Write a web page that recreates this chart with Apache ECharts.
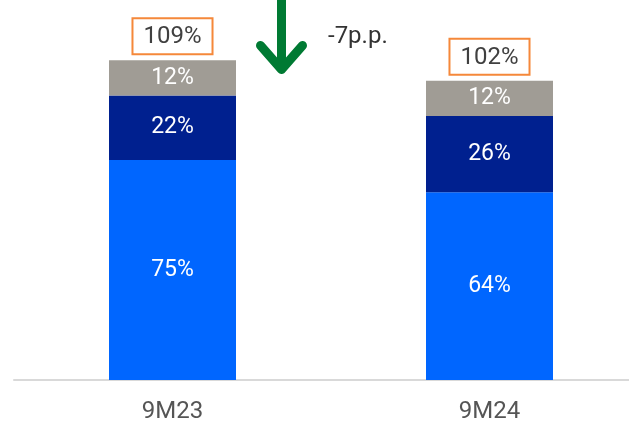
<!DOCTYPE html>
<html>
<head>
<meta charset="utf-8">
<script src="https://cdn.jsdelivr.net/npm/echarts@6/dist/echarts.min.js"></script>
<style>
  html, body { margin: 0; padding: 0; background: #fff; }
  #chart { width: 629px; height: 422px; }
</style>
</head>
<body>
<div id="chart"></div>
<script>
const categories = ['9M23', '9M24'];
const baseShare = [75, 64];
const midShare = [22, 26];
const topShare = [12, 12];
const totals = [109, 102];
const deltaText = '-7p.p.';

const FONT = 'Roboto';

const chart = echarts.init(document.getElementById('chart'));

const segLabel = {
  show: true,
  position: 'inside',
  formatter: '{c}%',
  color: '#fff',
  fontSize: 23,
  fontFamily: FONT,
  padding: [4, 0, 0, 0]
};

const option = {
  animation: false,
  grid: { left: 14, width: 634, top: 28, bottom: 42, outerBoundsMode: 'none' },
  xAxis: {
    type: 'category',
    data: categories,
    axisLine: { lineStyle: { color: '#d9d9d9', width: 2 } },
    axisTick: { show: false },
    axisLabel: { color: '#555', fontSize: 24, fontFamily: FONT, margin: 20 }
  },
  yAxis: {
    type: 'value',
    min: 0,
    max: 120,
    show: false,
    splitLine: { show: false }
  },
  series: [
    {
      name: 'base',
      type: 'bar',
      stack: 'a',
      data: baseShare,
      barWidth: 127,
      itemStyle: { color: '#0066FF' },
      label: segLabel
    },
    {
      name: 'mid',
      type: 'bar',
      stack: 'a',
      data: midShare,
      itemStyle: { color: '#00208F' },
      label: segLabel
    },
    {
      name: 'top',
      type: 'bar',
      stack: 'a',
      data: topShare,
      itemStyle: { color: '#A09C95' },
      label: segLabel
    },
    {
      name: 'total',
      type: 'scatter',
      data: totals,
      symbolSize: 0,
      itemStyle: { color: '#fff', opacity: 1 },
      label: {
        show: true,
        position: 'top',
        distance: 7,
        formatter: '{c}%',
        color: '#404040',
        fontSize: 24,
        fontFamily: FONT,
        lineHeight: 24,
        borderColor: '#F5883A',
        borderWidth: 2,
        padding: [6, 10, 4, 10],
        backgroundColor: '#fff'
      }
    }
  ],
  graphic: [
    {
      type: 'group',
      left: 256,
      top: -4,
      children: [
        {
          type: 'line',
          shape: { x1: 22, y1: 0, x2: 22, y2: 68 },
          style: { stroke: '#007A33', lineWidth: 9, lineCap: 'round' }
        },
        {
          type: 'polyline',
          shape: { points: [[1, 45], [22, 69], [43, 45]] },
          style: { stroke: '#007A33', lineWidth: 9, lineCap: 'round', lineJoin: 'round', fill: null }
        }
      ]
    },
    {
      type: 'text',
      left: 328,
      top: 25,
      style: { text: deltaText, fill: '#333', fontSize: 24, fontFamily: FONT }
    }
  ]
};

chart.setOption(option);
</script>
</body>
</html>
